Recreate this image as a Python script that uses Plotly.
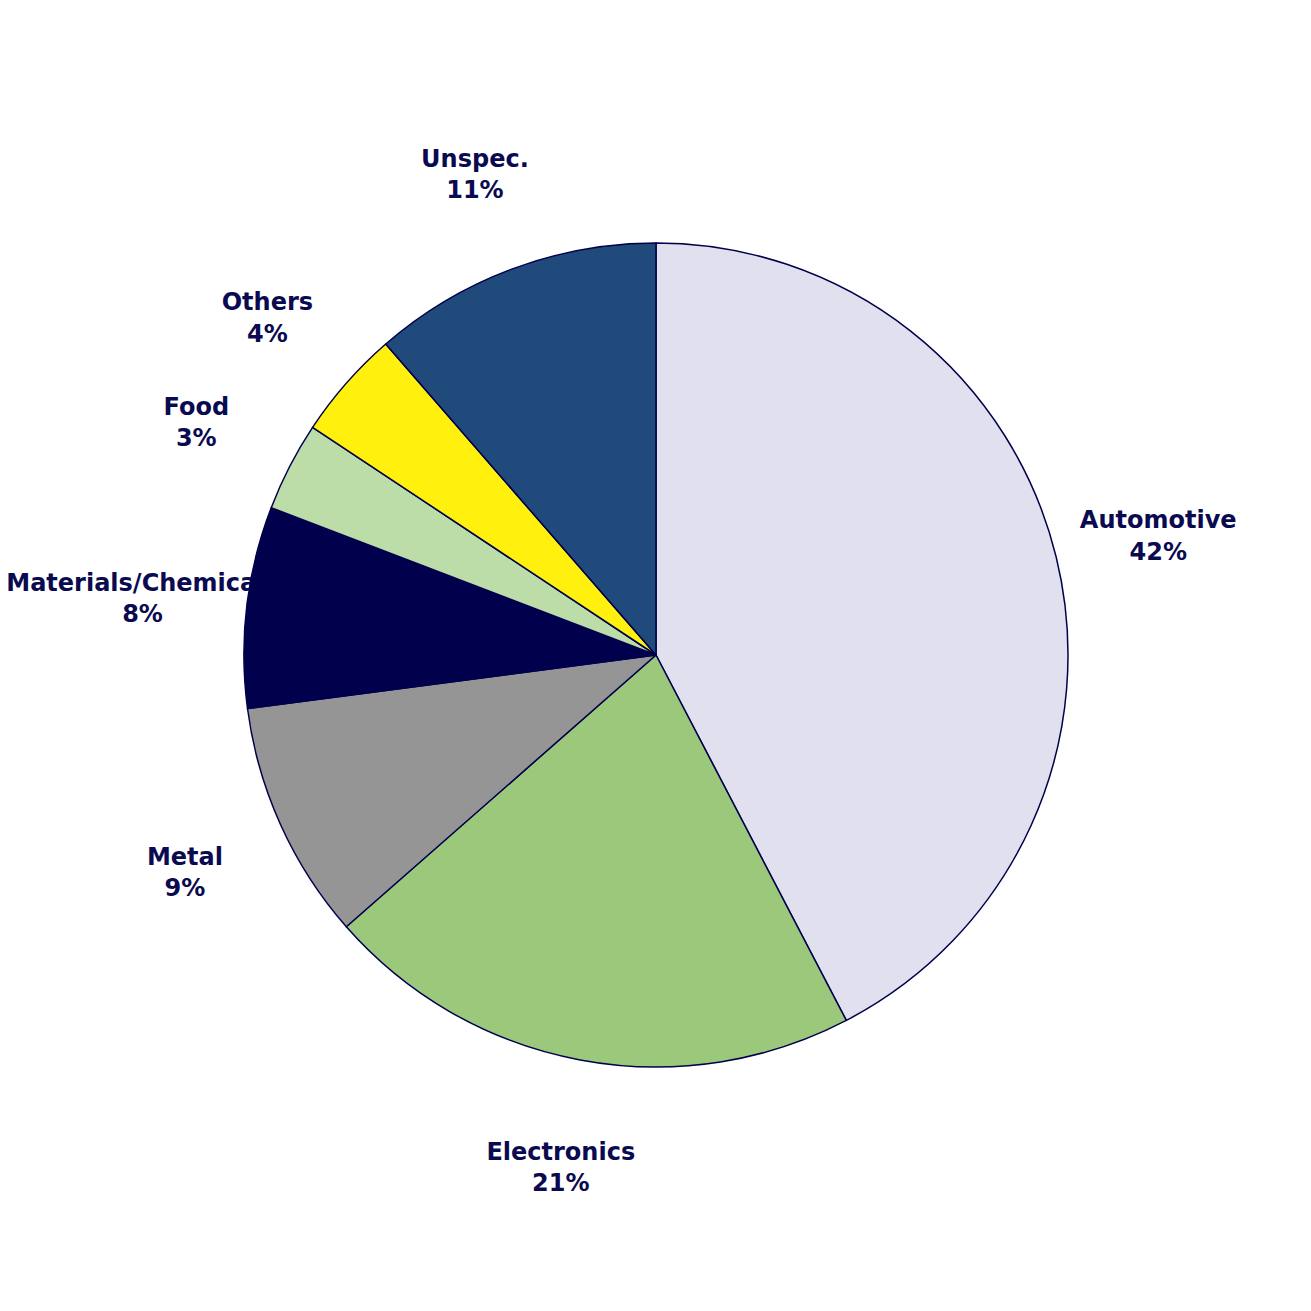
import numpy as np
import plotly.graph_objects as go

labels = ["Automotive", "Electronics", "Metal", "Materials/Chemicals", "Food", "Others", "Unspec."]
values = [42.4, 21.2, 9.4, 7.9, 3.5, 4.3, 11.4]
colors = ["#e0e0ee", "#9cc87c", "#959595", "#00004c", "#bcdca8", "#fff00e", "#204a7c"]

W = H = 1311
cx_px, cy_px = 648, 647  # pie centre within the figure (page adds 8px body margin)
R_px = 412
label_r = 1.255
label_dy_px = 6  # small downward nudge of label block
txt_color = "#0a0a50"

fig = go.Figure()

# label positions computed from the data (mid-angle of each slice, clockwise from top)
vals = np.array(values, dtype=float)
frac = vals / vals.sum()
ends = np.cumsum(frac) * 2 * np.pi
mids = ends - frac * np.pi
lx = label_r * np.sin(mids)
ly = label_r * np.cos(mids) - label_dy_px / R_px
texts = [f"<b>{l}<br>{round(p * 100):d}%</b>" for l, p in zip(labels, frac)]

fig.add_trace(go.Scatter(
    x=lx, y=ly, mode="text", text=texts,
    textfont=dict(family="Verdana, DejaVu Sans, sans-serif", size=24, color=txt_color),
    textposition="middle center", hoverinfo="skip", showlegend=False,
))

fig.add_trace(go.Pie(
    labels=labels, values=values, sort=False, direction="clockwise", rotation=0,
    marker=dict(colors=colors, line=dict(color="#00004c", width=1.5)),
    textinfo="none", hoverinfo="label+percent", showlegend=False,
    domain=dict(x=[(cx_px - R_px) / W, (cx_px + R_px) / W],
                y=[(H - cy_px - R_px) / H, (H - cy_px + R_px) / H]),
))

fig.update_layout(
    width=W, height=H,
    margin=dict(l=0, r=0, t=0, b=0),
    paper_bgcolor="white", plot_bgcolor="white",
    xaxis=dict(range=[-cx_px / R_px, (W - cx_px) / R_px], visible=False, fixedrange=True),
    yaxis=dict(range=[-(H - cy_px) / R_px, cy_px / R_px], visible=False, fixedrange=True),
)

fig.write_html("out.html")
